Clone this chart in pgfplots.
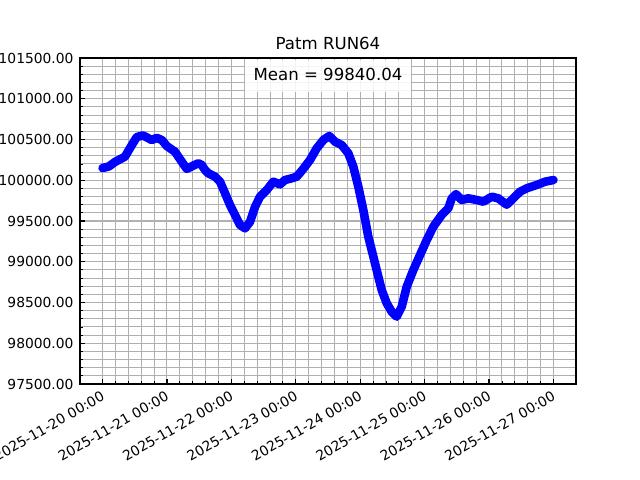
\documentclass[border=0pt]{standalone}
\usepackage{fontspec}
\setmainfont{DejaVu Sans}
\usepackage{pgfplots}
\pgfplotsset{compat=1.18}

\definecolor{lineblue}{HTML}{0000FF}
\definecolor{gridgray}{HTML}{B0B0B0}

% time in days since 2025-11-20 00:00, pressure in Pa
\pgfplotstableread{
t      p
0.000  100150
0.100  100170
0.194  100225
0.349  100290
0.453  100430
0.531  100530
0.629  100550
0.700  100520
0.764  100494
0.841  100520
0.919  100494
0.997  100420
1.125  100350
1.229  100228
1.307  100140
1.436  100190
1.487  100208
1.540  100187
1.591  100125
1.642  100085
1.746  100044
1.824  99982
1.902  99840
1.979  99696
2.057  99574
2.134  99451
2.212  99410
2.290  99491
2.368  99675
2.445  99798
2.549  99880
2.651  99982
2.755  99950
2.833  100003
2.937  100024
3.015  100044
3.117  100140
3.221  100249
3.325  100392
3.428  100494
3.521  100543
3.609  100473
3.713  100432
3.816  100330
3.893  100167
3.971  99921
4.048  99635
4.126  99307
4.204  99062
4.281  98817
4.334  98653
4.412  98490
4.489  98387
4.567  98326
4.645  98450
4.722  98694
4.825  98899
4.929  99083
5.033  99267
5.135  99430
5.265  99574
5.368  99656
5.421  99778
5.487  99830
5.576  99758
5.678  99778
5.809  99758
5.911  99737
6.042  99798
6.144  99778
6.274  99700
6.377  99778
6.481  99860
6.585  99901
6.740  99942
6.869  99982
7.000  100003
}\patm

\begin{document}
\begin{tikzpicture}
\begin{axis}[
  at={(0.8in,0.96in)}, anchor=south west,
  scale only axis, width=4.96in, height=3.26in,
  xmin=-0.35, xmax=7.35, ymin=97500, ymax=101500,
  xtick={0,...,7},
  xticklabels={2025-11-20 00:00,2025-11-21 00:00,2025-11-22 00:00,2025-11-23 00:00,2025-11-24 00:00,2025-11-25 00:00,2025-11-26 00:00,2025-11-27 00:00},
  minor x tick num=4,
  ytick={97500,98000,...,101500},
  minor y tick num=4,
  scaled y ticks=false,
  tick align=inside, xtick pos=bottom, ytick pos=left,
  major tick length=3.5pt, minor tick length=2pt,
  every tick/.style={black, line width=0.9pt},
  every minor tick/.style={black, line width=0.6pt},
  grid=both,
  major grid style={gridgray, line width=0.75pt},
  minor grid style={gridgray, line width=0.75pt},
  axis line style={black, line width=0.8pt},
  font=\fontsize{10}{12}\selectfont,
  /pgf/number format/assume math mode=true,
  yticklabel style={/pgf/number format/fixed, /pgf/number format/fixed zerofill,
    /pgf/number format/precision=2, /pgf/number format/1000 sep={}, inner sep=0pt, xshift=-4.5pt},
  xticklabel style={rotate=30, anchor=north east, inner sep=0pt, yshift=-3pt, xshift=-3.5pt},
  title={Patm RUN64},
  title style={at={(0.5,1)}, anchor=south, inner sep=0pt, yshift=0pt, font=\fontsize{12}{14}\selectfont},
]
\addplot[lineblue, line width=6.2pt, line join=round, line cap=round] table[x=t, y=p] {\patm};
\node[anchor=north, fill=white, fill opacity=0.85, text opacity=1, inner xsep=6.5pt, inner ysep=6pt,
      text height=9pt, text depth=2.5pt, font=\fontsize{12}{14}\selectfont]
  at ([yshift=-1pt]rel axis cs:0.5,1) {Mean = 99840.04};
\end{axis}
\pgfresetboundingbox
\useasboundingbox (0,0) rectangle (6.4in,4.8in);
\end{tikzpicture}
\end{document}
